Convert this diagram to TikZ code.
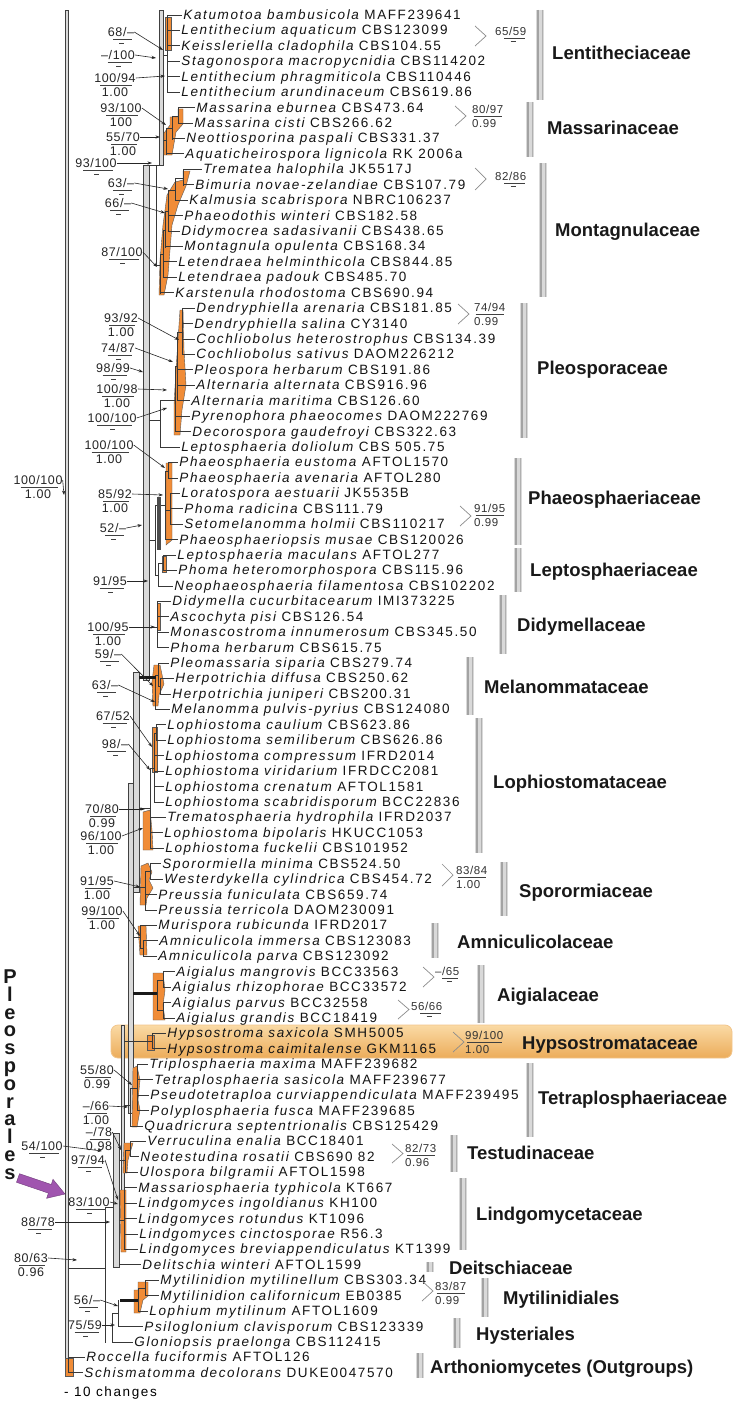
\documentclass[tikz,border=0pt]{standalone}
\usepackage{fontspec}
\setmainfont{Liberation Sans}
\newfontfamily\taxfont[LetterSpace=12]{Liberation Sans}
\newfontfamily\supfont[LetterSpace=5]{Liberation Sans}
\newfontfamily\famfont{Liberation Sans}
\usetikzlibrary{arrows.meta,calc}
\definecolor{orf}{RGB}{240,140,55}
\definecolor{purp}{RGB}{160,85,175}
\definecolor{hyA}{RGB}{250,218,165}
\definecolor{hyB}{RGB}{236,172,90}
% left support label, dash below: name,x,y,text,tx,ty
\newcommand\SVd[6]{%
  \node[sv] (#1) at (#2,#3) {#4};
  \draw[svbar] ($(#1.south west)!0.2!(#1.south east)+(0,2.5)$) -- ($(#1.south west)!0.9!(#1.south east)+(0,2.5)$);
  \draw[svbar] ($(#1.south)+(-2,6.5)$) -- ($(#1.south)+(3,6.5)$);
  \coordinate (#1t) at (#5,#6);
  \draw[sar] (#1.east) -- (#1t);}
% left support label with number below
\newcommand\SVn[7]{%
  \node[sv] (#1) at (#2,#3) {#4};
  \draw[svbar] ($(#1.south west)!0.15!(#1.south east)+(0,2.5)$) -- ($(#1.south west)!0.9!(#1.south east)+(0,2.5)$);
  \node[sv] (#1b) at ($(#1.center)+(0,14)$) {#5};
  \coordinate (#1t) at (#6,#7);
  \draw[sar] (#1.east) -- (#1t);}
% right label with bracket: name, gx, gy1, gy2, lx, ly, text
\newcommand\SVRd[7]{%
  \draw[gt] (#2,#3) -- ({#2+11},{(#3+#4)/2}) -- (#2,#4);
  \node[svr] (#1) at (#5,#6) {#7};
  \draw[svbar] ($(#1.south west)!0.3!(#1.south east)+(0,2)$) -- ($(#1.south west)!0.95!(#1.south east)+(0,2)$);
  \draw[svbar] ($(#1.south)+(0,5.5)$) -- ($(#1.south)+(5,5.5)$);}
\newcommand\SVRn[8]{%
  \draw[gt] (#2,#3) -- ({#2+11},{(#3+#4)/2}) -- (#2,#4);
  \node[svr] (#1) at (#5,#6) {#7};
  \draw[svbar] ($(#1.south west)!0.05!(#1.south east)+(0,2)$) -- ($(#1.south west)!0.95!(#1.south east)+(0,2)$);
  \node[svr] (#1b) at ($(#1.west)+(0,13.5)$) {#8};}
\begin{document}
\begin{tikzpicture}[x=1pt,y=-1pt,
  tax/.style={anchor=west,inner xsep=1.2pt,inner ysep=0pt,text height=9pt,text depth=0pt,font=\taxfont\fontsize{13.5}{15}\selectfont,text=black!92},
  sv/.style={inner sep=0pt,text height=8.5pt,text depth=0pt,font=\supfont\fontsize{12.5}{14}\selectfont,text=black!85},
  svr/.style={anchor=west,inner sep=0pt,text height=7.5pt,text depth=0pt,font=\supfont\fontsize{11.5}{12}\selectfont,text=black!80},
  svbar/.style={line width=0.6pt,black!75},
  sar/.style={-{Stealth[length=4.5pt,width=3.2pt]},line width=0.6pt,black!85},
  gt/.style={line width=0.7pt,black!45},
  fam/.style={anchor=west,inner sep=0pt,text height=13pt,text depth=0pt,font=\famfont\bfseries\fontsize{18.5}{20}\selectfont,text=black!90},
  tr/.style={line width=0.8pt,black!78},
  bb/.style={line width=0.5pt,draw=black!75,fill=gray!30},
  thk/.style={line width=3pt,black!90},
  orr/.style={fill=orf,draw=black!65,line width=0.4pt},
  pl/.style={inner sep=0pt,text height=7pt,text depth=0pt,font=\famfont\bfseries\fontsize{20}{22}\selectfont,text=black!90}]
\useasboundingbox (0,0) rectangle (735,1402);
\fill[white] (0,0) rectangle (735,1402);

% Hypsostromataceae highlight
\shade[rounded corners=7pt,top color=hyA,bottom color=hyB,draw=hyB!70!white,line width=0.8pt] (111,1025) rectangle (732,1058);

% family bars
\foreach \bx/\ba/\bb in {540/10/100,530/102/157,543/163/297,524/303/438,518/458/545,518/548/592,503/595/654,470/657/715,479/718/853,504/862/916,435/923/958,481/965/1023,530/1063/1137,454/1135/1172,463/1178/1250,430/1262/1272,485/1278/1317,457/1318/1348,420/1353/1378}{
  \fill[gray!30] ({\bx-3.6},\ba) rectangle ({\bx+3.6},\bb);
  \draw[gray!72,line width=2.4pt] ({\bx-2.2},\ba) -- ({\bx-2.2},\bb);
  \draw[gray!62,line width=1.3pt] ({\bx+2.6},\ba) -- ({\bx+2.6},\bb);
}

% family labels
\node[fam] (f1) at (552,53) {Lentitheciaceae};
\node[fam] (f2) at (547,128) {Massarinaceae};
\node[fam] (f3) at (555,230) {Montagnulaceae};
\node[fam] (f4) at (537,368) {Pleosporaceae};
\node[fam] (f5) at (528,498) {Phaeosphaeriaceae};
\node[fam] (f6) at (530,570) {Leptosphaeriaceae};
\node[fam] (f7) at (517,625) {Didymellaceae};
\node[fam] (f8) at (484,687) {Melanommataceae};
\node[fam] (f9) at (493,782) {Lophiostomataceae};
\node[fam] (f10) at (519,891) {Sporormiaceae};
\node[fam] (f11) at (457,942) {Amniculicolaceae};
\node[fam] (f12) at (497,995) {Aigialaceae};
\node[fam] (f13) at (522,1043) {Hypsostromataceae};
\node[fam] (f14) at (538,1098) {Tetraplosphaeriaceae};
\node[fam] (f15) at (467,1153) {Testudinaceae};
\node[fam] (f16) at (476,1214) {Lindgomycetaceae};
\node[fam] (f17) at (449,1268) {Deitschiaceae};
\node[fam] (f18) at (503,1298) {Mytilinidiales};
\node[fam] (f19) at (476,1334) {Hysteriales};
\node[fam] (f20) at (430,1367) {Arthoniomycetes (Outgroups)};

% backbone bars
\draw[bb] (65.5,10) rectangle (68.5,1373);
\draw[bb] (159.5,10) rectangle (163.5,165);
\draw[bb] (143,165) rectangle (149,680);
\draw[bb] (133,672) rectangle (139,892);
\draw[bb] (128,783) rectangle (133,1113);
\draw[bb] (121,1025) rectangle (124,1200);
\draw[bb] (113,1133) rectangle (119,1267);
\draw[tr] (149,165) -- (159.5,165);
\draw[tr] (156,165) -- (156,265);
\draw[tr] (105,1207) -- (105,1343);
\draw[tr] (105,1207) -- (113,1207);
\draw[tr] (68.5,1268) -- (105,1268);

% orange clade shapes
\filldraw[orr] (165,17) rectangle (171,50);
\filldraw[orr] (178,109) -- (183,109) -- (183,124) -- (176,132) -- (172,155) -- (164,155) -- (164,133) -- (170,125) -- (170,117) -- (178,117) -- cycle;
\filldraw[orr] (183,171) -- (190,171) -- (186,186) -- (178,205) -- (172,225) -- (170,250) -- (168,275) -- (164,295) -- (159,295) -- (160,260) -- (163,225) -- (167,195) -- (175,182) -- (183,180) -- cycle;
\filldraw[orr] (180,310) -- (183,310) -- (184,350) -- (186,385) -- (182,410) -- (180,435) -- (174,435) -- (174,405) -- (176,370) -- (178,340) -- cycle;
\filldraw[orr] (166,463) -- (172,463) -- (172,540) -- (166,545) -- cycle;
\filldraw[orr] (162,556) -- (166,556) -- (166,572) -- (162,572) -- cycle;
\filldraw[orr] (157,603) -- (160,603) -- (160,630) -- (157,630) -- cycle;
\filldraw[orr] (154,665) -- (160,665) -- (164,684) -- (159,695) -- (158,706) -- (153,706) -- (152,682) -- cycle;
\filldraw[orr] (152,727) -- (157,727) -- (157,772) -- (152,772) -- cycle;
\filldraw[orr] (143,812) -- (150,810) -- (152,830) -- (153,850) -- (143,850) -- cycle;
\filldraw[orr] (141,866) -- (148,863) -- (152,872) -- (149,880) -- (153,888) -- (147,898) -- (146,905) -- (140,905) -- cycle;
\filldraw[orr] (138,926) -- (146,926) -- (147,955) -- (140,955) -- cycle;
\filldraw[orr] (153,973) -- (163,973) -- (165,990) -- (163,1005) -- (165,1020) -- (153,1020) -- cycle;
\filldraw[orr] (147,1035) -- (154,1035) -- (154,1050) -- (147,1050) -- cycle;
\filldraw[orr] (133,1068) -- (137,1066) -- (140,1080) -- (138,1100) -- (140,1110) -- (137,1127) -- (132,1127) -- cycle;
\filldraw[orr] (124,1143) -- (133,1143) -- (128,1160) -- (127,1173) -- (123,1173) -- cycle;
\filldraw[orr] (120,1190) -- (126,1190) -- (126,1252) -- (121,1252) -- cycle;
\filldraw[orr] (138,1282) -- (148,1282) -- (148,1296) -- (143,1300) -- (140,1313) -- (134,1313) -- (134,1290) -- (138,1290) -- cycle;
\filldraw[orr] (65,1358) rectangle (73,1376);

% clade internal lines
\draw[tr] (167,15) -- (167,93) (163.5,55) -- (167,55);
\draw[tr] (178,108) -- (178,124) (172,116) -- (178,116) (172,116) -- (172,140) (166,128) -- (172,128) (166,128) -- (166,155) (163.5,140) -- (166,140);
\draw[tr] (183,170) -- (183,186) (175,178) -- (183,178) (175,178) -- (175,201) (168,190) -- (175,190) (168,190) -- (168,232) (165,211) -- (168,211) (165,211) -- (165,248) (163,230) -- (165,230) (163,230) -- (163,278) (160,254) -- (163,254) (160,254) -- (160,294) (156,265) -- (160,265);
\draw[tr] (182,309) -- (182,355) (177,332) -- (182,332) (177,332) -- (177,401) (175,366) -- (177,366) (175,366) -- (175,432) (160,400) -- (175,400) (160,400) -- (160,448) (149,420) -- (160,420);
\draw[tr] (168,463) -- (168,479) (170,494) -- (170,525) (165,471) -- (165,540) (165,471) -- (168,471) (165,510) -- (170,510) (160,505) -- (165,505) (163,556) -- (163,571) (158,563) -- (158,587) (158,563) -- (163,563) (155,505) -- (155,575) (155,505) -- (160,505) (155,575) -- (158,575) (149,540) -- (155,540);
\draw[black!70,line width=4pt] (159,497) -- (159,550);
\draw[tr] (157,602) -- (157,648) (149,627) -- (157,627);
\draw[tr] (160,679) -- (160,694) (158,663) -- (158,686) (158,686) -- (160,686) (155,675) -- (155,710) (155,675) -- (158,675);
\draw[thk] (139,677) -- (156,677);
\draw[tr] (156,725) -- (156,741) (154,733) -- (154,802) (154,733) -- (156,733) (150,768) -- (150,848) (150,768) -- (154,768) (139,808) -- (150,808);
\draw[tr] (150,864) -- (150,879) (145,871) -- (145,910) (145,871) -- (150,871) (133,887) -- (145,887);
\draw[tr] (140,926) -- (140,948) (143,941) -- (143,956) (140,948) -- (143,948) (133,937) -- (140,937);
\draw[tr] (163,972) -- (163,987) (163,1003) -- (163,1018) (157,980) -- (157,1010) (157,980) -- (163,980) (157,1010) -- (163,1010);
\draw[thk] (133,993) -- (157,993);
\draw[tr] (152,1034) -- (152,1049) (124,1041) -- (152,1041);
\draw[tr] (137,1065) -- (137,1111) (130,1088) -- (130,1126) (130,1088) -- (137,1088) (124,1105) -- (130,1105);
\draw[tr] (130,1142) -- (130,1157) (125,1150) -- (125,1173) (125,1150) -- (130,1150) (119,1160) -- (125,1160);
\draw[tr] (124,1188) -- (124,1250) (119,1220) -- (124,1220);
\draw[tr] (145,1281) -- (145,1296) (138,1288) -- (138,1312) (138,1288) -- (145,1288);
\draw[thk] (120,1300) -- (138,1300);
\draw[tr] (118,1300) -- (118,1327) (112,1313) -- (112,1342) (112,1313) -- (118,1313) (105,1325) -- (112,1325);
\draw[tr] (68.5,1358) -- (68.5,1373);

% taxa
\foreach \ti/\tx/\tn/\tc/\tb in {
1/182/Katumotoa bambusicola/MAFF239641/167,
2/180/Lentithecium aquaticum/CBS123099/167,
3/180/Keissleriella cladophila/CBS104.55/167,
4/180/Stagonospora macropycnidia/CBS114202/167,
5/180/Lentithecium phragmiticola/CBS110446/167,
6/180/Lentithecium arundinaceum/CBS619.86/167,
7/195/Massarina eburnea/CBS473.64/178,
8/193/Massarina cisti/CBS266.62/178,
9/185/Neottiosporina paspali/CBS331.37/172,
10/184/Aquaticheirospora lignicola/RK 2006a/166,
11/202/Trematea halophila/JK5517J/183,
12/194/Bimuria novae-zelandiae/CBS107.79/183,
13/188/Kalmusia scabrispora/NBRC106237/175,
14/183/Phaeodothis winteri/CBS182.58/168,
15/180/Didymocrea sadasivanii/CBS438.65/168,
16/183/Montagnula opulenta/CBS168.34/165,
17/177/Letendraea helminthicola/CBS844.85/163,
18/177/Letendraea padouk/CBS485.70/163,
19/174/Karstenula rhodostoma/CBS690.94/160,
20/195/Dendryphiella arenaria/CBS181.85/182,
21/193/Dendryphiella salina/CY3140/182,
22/195/Cochliobolus heterostrophus/CBS134.39/182,
23/195/Cochliobolus sativus/DAOM226212/182,
24/193/Pleospora herbarum/CBS191.86/177,
25/195/Alternaria alternata/CBS916.96/177,
26/190/Alternaria maritima/CBS126.60/177,
27/190/Pyrenophora phaeocomes/DAOM222769/175,
28/191/Decorospora gaudefroyi/CBS322.63/175,
29/180/Leptosphaeria doliolum/CBS 505.75/160,
30/178/Phaeosphaeria eustoma/AFTOL1570/168,
31/178/Phaeosphaeria avenaria/AFTOL280/168,
32/180/Loratospora aestuarii/JK5535B/170,
33/183/Phoma radicina/CBS111.79/170,
34/183/Setomelanomma holmii/CBS110217/170,
35/178/Phaeosphaeriopsis musae/CBS120026/165,
36/176/Leptosphaeria maculans/AFTOL277/163,
37/177/Phoma heteromorphospora/CBS115.96/163,
38/173/Neophaeosphaeria filamentosa/CBS102202/158,
39/171/Didymella cucurbitacearum/IMI373225/157,
40/169/Ascochyta pisi/CBS126.54/157,
41/169/Monascostroma innumerosum/CBS345.50/157,
42/169/Phoma herbarum/CBS615.75/157,
43/169/Pleomassaria siparia/CBS279.74/158,
44/174/Herpotrichia diffusa/CBS250.62/160,
45/171/Herpotrichia juniperi/CBS200.31/160,
46/170/Melanomma pulvis-pyrius/CBS124080/155,
47/166/Lophiostoma caulium/CBS623.86/156,
48/166/Lophiostoma semiliberum/CBS626.86/156,
49/164/Lophiostoma compressum/IFRD2014/154,
50/164/Lophiostoma viridarium/IFRDCC2081/154,
51/164/Lophiostoma crenatum/AFTOL1581/154,
52/164/Lophiostoma scabridisporum/BCC22836/154,
53/166/Trematosphaeria hydrophila/IFRD2037/150,
54/163/Lophiostoma bipolaris/HKUCC1053/150,
55/164/Lophiostoma fuckelii/CBS101952/150,
56/161/Sporormiella minima/CBS524.50/150,
57/163/Westerdykella cylindrica/CBS454.72/150,
58/157/Preussia funiculata/CBS659.74/145,
59/157/Preussia terricola/DAOM230091/145,
60/157/Murispora rubicunda/IFRD2017/140,
61/158/Amniculicola immersa/CBS123083/143,
62/157/Amniculicola parva/CBS123092/143,
63/175/Aigialus mangrovis/BCC33563/163,
64/171/Aigialus rhizophorae/BCC33572/163,
65/171/Aigialus parvus/BCC32558/163,
66/175/Aigialus grandis/BCC18419/163,
67/166/Hypsostroma saxicola/SMH5005/152,
68/166/Hypsostroma caimitalense/GKM1165/152,
69/148/Triplosphaeria maxima/MAFF239682/137,
70/153/Tetraplosphaeria sasicola/MAFF239677/137,
71/149/Pseudotetraploa curviappendiculata/MAFF239495/137,
72/149/Polyplosphaeria fusca/MAFF239685/137,
73/143/Quadricrura septentrionalis/CBS125429/130,
74/146/Verruculina enalia/BCC18401/130,
75/139/Neotestudina rosatii/CBS690 82/130,
76/138/Ulospora bilgramii/AFTOL1598/125,
77/137/Massariosphaeria typhicola/KT667/124,
78/137/Lindgomyces ingoldianus/KH100/124,
79/137/Lindgomyces rotundus/KT1096/124,
80/138/Lindgomyces cinctosporae/R56.3/124,
81/138/Lindgomyces breviappendiculatus/KT1399/124,
82/141/Delitschia winteri/AFTOL1599/119,
83/159/Mytilinidion mytilinellum/CBS303.34/145,
84/159/Mytilinidion californicum/EB0385/145,
85/148/Lophium mytilinum/AFTOL1609/138,
86/143/Psiloglonium clavisporum/CBS123339/118,
87/133/Gloniopsis praelonga/CBS112415/112,
88/85/Roccella fuciformis/AFTOL126/68.5,
89/83/Schismatomma decolorans/DUKE0047570/68.5}{
  \pgfmathsetmacro\ty{15+(\ti-1)*15.43}
  \node[tax] (t\ti) at (\tx,\ty) {\itshape\tn\upshape\ \tc};
  \draw[tr] (\tb,\ty) -- (t\ti.west);
}

% support values (left)
\SVd{L1}{121}{32}{68/–}{163}{50}
\SVd{L2}{118}{55}{–/100}{156}{58}
\SVn{L3}{115}{78}{100/94}{1.00}{165}{76}
\SVn{L4}{121}{108}{93/100}{100}{166}{125}
\SVn{L5}{123}{137}{55/70}{1.00}{160}{137}
\SVd{L6}{96}{163}{93/100}{152}{163}
\SVd{L7}{121}{183}{63/–}{168}{189}
\SVd{L8}{118}{203}{66/–}{165}{213}
\SVd{L9}{122}{252}{87/100}{157}{267}
\SVn{L10}{121}{318}{93/92}{1.00}{179}{340}
\SVd{L11}{118}{348}{74/87}{173}{362}
\SVd{L12}{113}{368}{98/99}{143}{372}
\SVn{L13}{117}{389}{100/98}{1.00}{167}{390}
\SVd{L14}{112}{418}{100/100}{167}{408}
\SVn{L15}{109}{445}{100/100}{1.00}{165}{468}
\SVn{L16}{38}{480}{100/100}{1.00}{64}{495}
\SVn{L17}{115}{494}{85/92}{1.00}{163}{495}
\SVd{L18}{113}{528}{52/–}{142}{525}
\SVd{L19}{110}{581}{91/95}{148}{581}
\SVn{L20}{108}{627}{100/95}{1.00}{155}{627}
\SVd{L21}{108}{654}{59/–}{153}{686}
\SVd{L22}{105}{685}{63/–}{155}{702}
\SVd{L23}{113}{716}{67/52}{152}{747}
\SVd{L24}{115}{744}{98/–}{150}{770}
\SVn{L25}{102}{809}{70/80}{0.99}{145}{809}
\SVn{L26}{101}{836}{96/100}{1.00}{143}{828}
\SVn{L27}{97}{881}{91/95}{1.00}{140}{887}
\SVn{L28}{102}{911}{99/100}{1.00}{140}{936}
\SVn{L29}{97}{1070}{55/80}{0.99}{132}{1085}
\SVn{L30}{96}{1106}{–/66}{1.00}{128}{1107}
\SVn{L31}{99}{1132}{–/78}{0.98}{121}{1150}
\SVd{L32}{42}{1146}{54/100}{102}{1151}
\SVd{L33}{88}{1160}{97/94}{118}{1200}
\SVd{L34}{89}{1202}{83/100}{118}{1204}
\SVd{L35}{38}{1222}{88/78}{110}{1222}
\SVn{L36}{31}{1258}{80/63}{0.96}{77}{1260}
\SVd{L37}{87}{1300}{56/–}{118}{1306}
\SVd{L38}{85}{1325}{75/59}{115}{1325}

% support values (right, with brackets)
\SVRd{R1}{475}{26}{46}{495}{32}{65/59}
\SVRn{R2}{455}{106}{126}{472}{110}{80/97}{0.99}
\SVRd{R3}{475}{168}{190}{495}{177}{82/86}
\SVRn{R4}{458}{304}{324}{474}{308}{74/94}{0.99}
\SVRn{R5}{460}{506}{526}{474}{509}{91/95}{0.99}
\SVRn{R6}{442}{864}{886}{456}{871}{83/84}{1.00}
\SVRd{R7}{423}{967}{987}{435}{972}{–/65}
\SVRd{R8}{398}{1000}{1019}{411}{1007}{56/66}
\SVRn{R9}{453}{1032}{1052}{465}{1036}{99/100}{1.00}
\SVRn{R10}{392}{1144}{1163}{405}{1149}{82/73}{0.96}
\SVRn{R11}{422}{1281}{1301}{435}{1287}{83/87}{0.99}

% Pleosporales vertical label
\foreach \L [count=\k] in {P,l,e,o,s,p,o,r,a,l,e,s}{
  \pgfmathsetmacro\ly{980+(\k-1)*17.8}
  \node[pl] (pl\k) at (10,\ly) {\L};
}
% purple arrow
\filldraw[fill=purp,draw=purp!70!black,line width=0.4pt] (16.5,1182.3) -- (19.5,1173.7) -- (51.3,1184.5) -- (53,1179.3) -- (65,1194) -- (46.6,1198.3) -- (48.4,1193.1) -- cycle;

% scale
\node[anchor=west,inner sep=0pt,font=\taxfont\fontsize{13.5}{15}\selectfont] (scale) at (64,1393) {- 10 changes};
\end{tikzpicture}
\end{document}
